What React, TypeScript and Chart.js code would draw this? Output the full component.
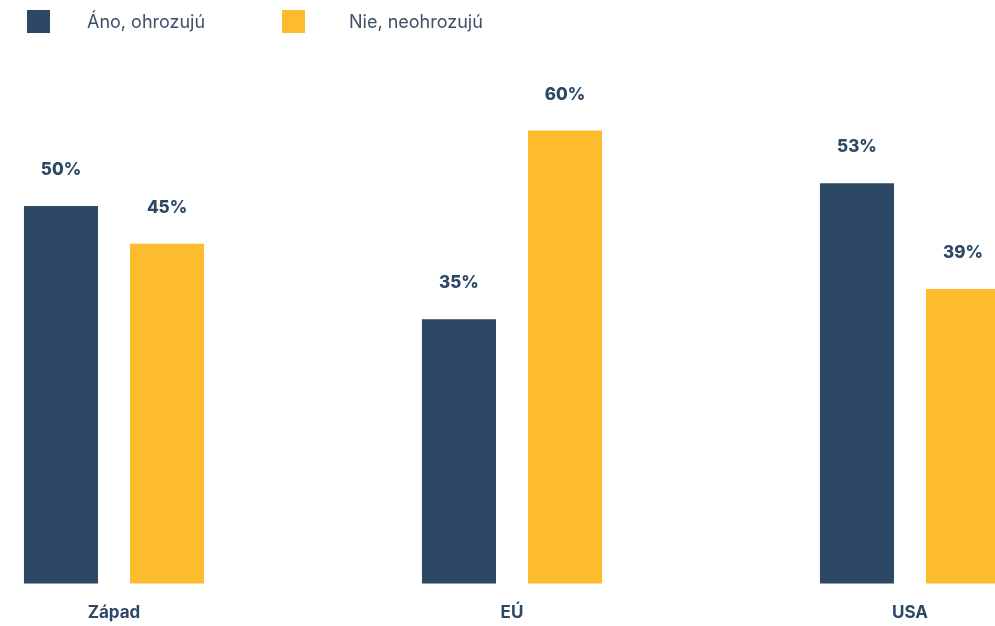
import React, { useEffect, useRef } from "react";
import { Chart, registerables } from "chart.js";

Chart.register(...registerables);

const categories = ["Západ", "EÚ", "USA"];
const seriesNames = ["Áno, ohrozujú", "Nie, neohrozujú"];
const yesValues = [50, 35, 53];
const noValues = [45, 60, 39];
const seriesColors = ["#2c4865", "#fdbb2e"];
const textColor = "#2c4865";
const legendTextColor = "#3e5068";

const valueLabelPlugin = {
  id: "valueLabels",
  afterDatasetsDraw(chart: any) {
    const ctx = chart.ctx;
    ctx.save();
    ctx.font = "800 17px Inter";
    ctx.fillStyle = textColor;
    ctx.textAlign = "center";
    ctx.textBaseline = "middle";
    chart.data.datasets.forEach((ds: any, i: number) => {
      const meta = chart.getDatasetMeta(i);
      meta.data.forEach((bar: any, j: number) => {
        ctx.fillText(ds.data[j] + "%", bar.x, bar.y - 36);
      });
    });
    ctx.restore();
  },
};

export default function App() {
  const ref = useRef<HTMLCanvasElement>(null);
  useEffect(() => {
    if (!ref.current) return;
    const chart = new Chart(ref.current, {
      type: "bar",
      data: {
        labels: categories,
        datasets: [
          {
            label: seriesNames[0],
            data: yesValues,
            backgroundColor: seriesColors[0],
            categoryPercentage: 0.533,
            barPercentage: 0.698,
            clip: false,
          },
          {
            label: seriesNames[1],
            data: noValues,
            backgroundColor: seriesColors[1],
            categoryPercentage: 0.533,
            barPercentage: 0.698,
            clip: false,
          },
        ],
      },
      options: {
        animation: false,
        responsive: false,
        layout: { padding: { left: 114, right: 85, top: 55, bottom: 0 } },
        plugins: { legend: { display: false }, tooltip: { enabled: false } },
        scales: {
          x: {
            offset: false,
            grid: { display: false, drawTicks: false },
            border: { display: false },
            ticks: {
              padding: 19,
              color: textColor,
              font: { family: "Inter", size: 17, weight: "bold" },
              maxRotation: 0,
              autoSkip: false,
            },
          },
          y: { display: false, min: 0, max: 70 },
        },
      },
      plugins: [valueLabelPlugin],
    } as any);
    return () => chart.destroy();
  }, []);

  const legendItem = (i: number, boxLeft: number, textLeft: number) => (
    <React.Fragment key={i}>
      <div
        style={{
          position: "absolute",
          left: boxLeft,
          top: 10,
          width: 23,
          height: 23,
          background: seriesColors[i],
        }}
      />
      <div
        style={{
          position: "absolute",
          left: textLeft,
          top: 10,
          height: 23,
          lineHeight: "23px",
          fontFamily: "Inter, sans-serif",
          fontSize: 18,
          color: legendTextColor,
          whiteSpace: "nowrap",
        }}
      >
        {seriesNames[i]}
      </div>
    </React.Fragment>
  );

  return (
    <div
      style={{
        position: "absolute",
        left: 0,
        top: 0,
        width: 995,
        height: 626,
        overflow: "hidden",
        background: "#ffffff",
      }}
    >
      <canvas ref={ref} width={995} height={642} style={{ display: "block", width: 995, height: 642 }} />
      {legendItem(0, 27, 87)}
      {legendItem(1, 282, 349)}
    </div>
  );
}
